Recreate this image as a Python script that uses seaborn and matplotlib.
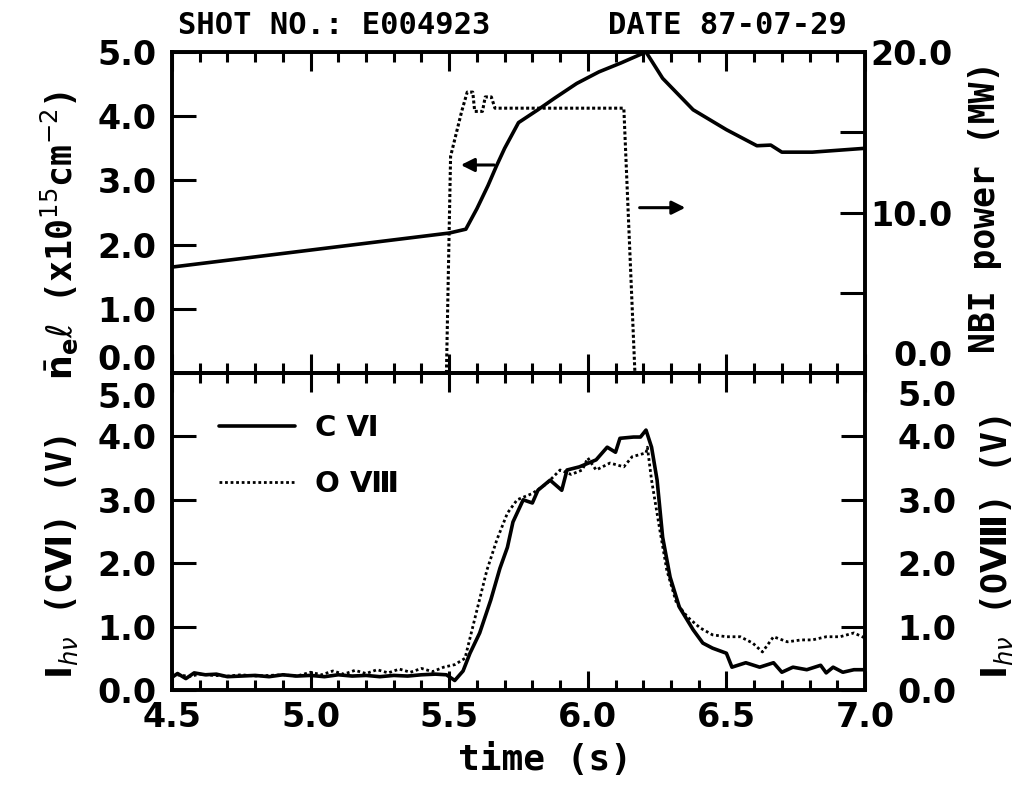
import matplotlib
matplotlib.use("Agg")
import matplotlib.pyplot as plt
import seaborn as sns
import pandas as pd
from matplotlib.ticker import MultipleLocator
from matplotlib.transforms import ScaledTranslation

# ---------------- data ----------------
time_ne = [4.50, 5.50, 5.56, 5.60, 5.64, 5.67, 5.70, 5.75, 5.82, 5.88, 5.96, 6.04,
           6.12, 6.21, 6.27, 6.38, 6.50, 6.61, 6.66, 6.70, 6.81, 7.00]
ne_l = [1.65, 2.18, 2.24, 2.56, 2.92, 3.22, 3.50, 3.90, 4.10, 4.28, 4.51, 4.69,
        4.83, 5.00, 4.59, 4.10, 3.79, 3.54, 3.55, 3.44, 3.44, 3.50]

time_nbi = [5.49, 5.505, 5.545, 5.565, 5.585, 5.592, 5.62, 5.63, 5.652, 5.665, 6.13, 6.17]
nbi_mw = [0.0, 13.5, 16.3, 17.5, 17.5, 16.3, 16.3, 17.2, 17.2, 16.5, 16.5, 0.0]

time_c6 = [4.50, 4.52, 4.55, 4.58, 4.62, 4.66, 4.70, 4.75, 4.80, 4.85,
           4.90, 4.95, 5.00, 5.05, 5.10, 5.15, 5.20, 5.25, 5.30, 5.35,
           5.40, 5.45, 5.49, 5.52, 5.55, 5.575, 5.61, 5.65, 5.683, 5.71,
           5.73, 5.767, 5.80, 5.82, 5.864, 5.906, 5.925, 5.97, 6.03, 6.07,
           6.10, 6.116, 6.165, 6.19, 6.21, 6.23, 6.25, 6.27, 6.297, 6.33,
           6.38, 6.415, 6.45, 6.50, 6.52, 6.57, 6.62, 6.67, 6.70, 6.74,
           6.79, 6.84, 6.86, 6.885, 6.92, 6.96, 7.00]
c6 = [0.20, 0.26, 0.18, 0.27, 0.24, 0.25, 0.21, 0.22, 0.23, 0.21,
      0.24, 0.22, 0.23, 0.21, 0.24, 0.22, 0.23, 0.21, 0.23, 0.22,
      0.24, 0.25, 0.24, 0.15, 0.30, 0.58, 0.90, 1.42, 1.92, 2.25,
      2.65, 3.00, 2.95, 3.15, 3.31, 3.15, 3.47, 3.52, 3.63, 3.83,
      3.75, 3.97, 3.99, 3.99, 4.10, 3.83, 3.31, 2.41, 1.78, 1.31,
      0.95, 0.74, 0.66, 0.58, 0.36, 0.43, 0.36, 0.43, 0.28, 0.36,
      0.32, 0.39, 0.27, 0.36, 0.28, 0.32, 0.32]

time_o8 = [4.50, 4.53, 4.56, 4.60, 4.65, 4.70, 4.75, 4.80, 4.85, 4.90,
           4.95, 5.00, 5.04, 5.08, 5.12, 5.16, 5.20, 5.24, 5.28, 5.32,
           5.36, 5.40, 5.44, 5.48, 5.52, 5.557, 5.60, 5.636, 5.672, 5.71,
           5.745, 5.80, 5.85, 5.90, 5.94, 5.98, 6.00, 6.03, 6.08, 6.13,
           6.16, 6.21, 6.215, 6.23, 6.26, 6.285, 6.32, 6.36, 6.405, 6.45,
           6.50, 6.55, 6.595, 6.63, 6.67, 6.72, 6.77, 6.81, 6.86, 6.91,
           6.96, 7.00]
o8 = [0.22, 0.24, 0.21, 0.25, 0.23, 0.22, 0.24, 0.22, 0.23, 0.24,
      0.22, 0.28, 0.24, 0.30, 0.25, 0.31, 0.26, 0.32, 0.27, 0.33,
      0.28, 0.34, 0.29, 0.36, 0.40, 0.50, 1.26, 1.89, 2.37, 2.79,
      3.00, 3.10, 3.25, 3.47, 3.40, 3.47, 3.66, 3.47, 3.58, 3.52,
      3.68, 3.74, 3.83, 3.31, 2.52, 1.89, 1.37, 1.15, 0.98, 0.87,
      0.84, 0.84, 0.74, 0.60, 0.84, 0.76, 0.79, 0.79, 0.84, 0.84,
      0.90, 0.82]

x_ticks = [4.5, 5.0, 5.5, 6.0, 6.5, 7.0]
x_ticklabels = ["4.5", "5.0", "5.5", "6.0", "6.5", "7.0"]
left_ticks = [0, 1, 2, 3, 4, 5]
left_ticklabels = ["0.0", "1.0", "2.0", "3.0", "4.0", "5.0"]
nbi_ticks = [0, 10, 20]
nbi_ticklabels = ["0.0", "10.0", "20.0"]
nbi_minor = [5, 15]

header_left = "SHOT NO.: E004923"
header_right = "DATE 87-07-29"
label_ne = r"$\bar{\mathbf{n}}_{\mathbf{e}}\ell$ (x10$^{15}$cm$^{-2}$)"
label_nbi = "NBI power (MW)"
label_c6 = r"$\mathbf{I}_{h\nu}$ (C$\mathbf{Ⅵ}$) (V)"
label_o8 = r"$\mathbf{I}_{h\nu}$ (O$\mathbf{Ⅷ}$) (V)"
label_time = "time (s)"
legend_c6 = "C Ⅵ"
legend_o8 = "O Ⅷ"

# arrow annotations (data coords)
arrow_left = ((5.672, 3.24), (5.532, 3.24))
arrow_right = ((6.177, 10.3), (6.362, 10.3))

# ---------------- style ----------------
sns.set_theme(style="ticks")
plt.rcParams["font.family"] = ["DejaVu Sans"]
plt.rcParams["mathtext.fontset"] = "dejavusans"
plt.rcParams["axes.linewidth"] = 2.6
for k in ("text.color", "axes.labelcolor", "xtick.color", "ytick.color", "axes.edgecolor"):
    plt.rcParams[k] = "black"
MONO = ["DejaVu Sans Mono", "DejaVu Sans"]
SANS = ["DejaVu Sans"]
TICKFS = 24
LABFS = 25

fig = plt.figure(figsize=(10.36, 7.87), dpi=100)
W, H = 1036, 787
L, R = 172 / W, 865 / W
ax1 = fig.add_axes([L, 1 - 373 / H, R - L, (373 - 52) / H])
ax2 = fig.add_axes([L, 1 - 690 / H, R - L, (690 - 373) / H], sharex=ax1)
ax1r = ax1.twinx()
ax2r = ax2.twinx()

df_ne = pd.DataFrame({"t": time_ne, "v": ne_l})
df_nbi = pd.DataFrame({"t": time_nbi, "v": nbi_mw})
df_c6 = pd.DataFrame({"t": time_c6, "v": c6})
df_o8 = pd.DataFrame({"t": time_o8, "v": o8})

sns.lineplot(data=df_ne, x="t", y="v", ax=ax1, color="black", lw=2.6, estimator=None, sort=False)
sns.lineplot(data=df_nbi, x="t", y="v", ax=ax1r, color="black", lw=2.2, estimator=None,
             sort=False, linestyle=(0, (1, 0.8)))
sns.lineplot(data=df_c6, x="t", y="v", ax=ax2, color="black", lw=2.6, estimator=None,
             sort=False, label=legend_c6)
sns.lineplot(data=df_o8, x="t", y="v", ax=ax2r, color="black", lw=2.0, estimator=None,
             sort=False, linestyle=(0, (1, 1)), label=legend_o8)

for a in (ax1, ax1r, ax2, ax2r):
    a.set_xlabel("")
    a.set_ylabel("")
    for s in a.spines.values():
        s.set_linewidth(2.6)
        s.set_color("black")

ax1.set_xlim(4.5, 7.0)
for a in (ax1, ax2):
    a.xaxis.set_major_locator(MultipleLocator(0.5))
    a.xaxis.set_minor_locator(MultipleLocator(0.1))
    a.tick_params(axis="x", which="both", direction="in", top=True, bottom=True,
                  width=2.2, color="black")
    a.tick_params(axis="x", which="major", length=14)
    a.tick_params(axis="x", which="minor", length=7)
ax1.tick_params(axis="x", labelbottom=False)
ax2.set_xticks(x_ticks, x_ticklabels)
ax2.tick_params(axis="x", labelsize=TICKFS, pad=8)

for a in (ax1, ax2):
    a.set_ylim(0, 5)
    a.set_yticks(left_ticks, left_ticklabels)
    a.tick_params(axis="y", which="major", direction="in", length=17, width=2.2,
                  labelsize=TICKFS, pad=11, color="black")

ax1r.set_ylim(0, 20)
ax1r.set_yticks(nbi_ticks, nbi_ticklabels)
ax1r.set_yticks(nbi_minor, minor=True)
ax1r.tick_params(axis="y", which="both", direction="in", length=18, width=2.2,
                 labelsize=TICKFS, pad=63, color="black")
ax2r.set_ylim(0, 5)
ax2r.set_yticks(left_ticks, left_ticklabels)
ax2r.tick_params(axis="y", which="major", direction="in", length=17, width=2.2,
                 labelsize=TICKFS, pad=66, color="black")

for a in (ax1, ax2, ax1r, ax2r):
    for lab in a.get_yticklabels() + a.get_xticklabels():
        lab.set_fontweight("bold")
for a in (ax1r, ax2r):
    for lab in a.get_yticklabels():
        lab.set_horizontalalignment("right")

# shift the crowded end labels away from the shared border
def shift(lab, dy_px):
    lab.set_transform(lab.get_transform() + ScaledTranslation(0, dy_px / 100, fig.dpi_scale_trans))

shift(ax1.get_yticklabels()[0], 16)
shift(ax1r.get_yticklabels()[0], 20)
shift(ax2.get_yticklabels()[-1], -22)
shift(ax2r.get_yticklabels()[-1], -20)

# axis labels
lab_kw = dict(fontsize=LABFS, family=MONO, fontweight="bold", va="center")
ax1.set_ylabel(label_ne, **lab_kw)
ax1.yaxis.set_label_coords(-0.162, 0.43)
ax2.set_ylabel(label_c6, **lab_kw)
ax2.yaxis.set_label_coords(-0.159, 0.42)
ax1r.set_ylabel(label_nbi, rotation=90, **lab_kw)
ax1r.yaxis.set_label_coords(1.173, 0.517)
ax2r.set_ylabel(label_o8, rotation=90, **lab_kw)
ax2r.yaxis.set_label_coords(1.19, 0.45)
ax2.set_xlabel(label_time, fontsize=26, family=MONO, fontweight="bold", va="center")
ax2.xaxis.set_label_coords(0.538, -0.22)

# arrows
ax1.annotate("", xy=arrow_left[1], xytext=arrow_left[0],
             arrowprops=dict(arrowstyle="-|>", color="black", lw=2.2, mutation_scale=20))
ax1r.annotate("", xy=arrow_right[1], xytext=arrow_right[0],
              arrowprops=dict(arrowstyle="-|>", color="black", lw=2.2, mutation_scale=20))

# legend
if ax2.get_legend() is not None:
    ax2.get_legend().remove()
if ax2r.get_legend() is not None:
    ax2r.get_legend().remove()
h1 = ax2.get_lines()[0]
h2 = ax2r.get_lines()[0]
leg = ax2r.legend([h1, h2], [legend_c6, legend_o8], loc="upper left",
                  bbox_to_anchor=(0.068, 0.87), frameon=False, handlelength=2.6,
                  handletextpad=0.7, labelspacing=0.95, borderpad=0, borderaxespad=0,
                  prop={"family": SANS, "size": 21, "weight": "bold"})

# header
fig.text(178 / W, 1 - 25 / H, header_left, ha="left", va="center",
         family=MONO, fontsize=22, fontweight="bold")
fig.text(847 / W, 1 - 25 / H, header_right, ha="right", va="center",
         family=MONO, fontsize=22, fontweight="bold")

fig.savefig("out.png", dpi=100)
